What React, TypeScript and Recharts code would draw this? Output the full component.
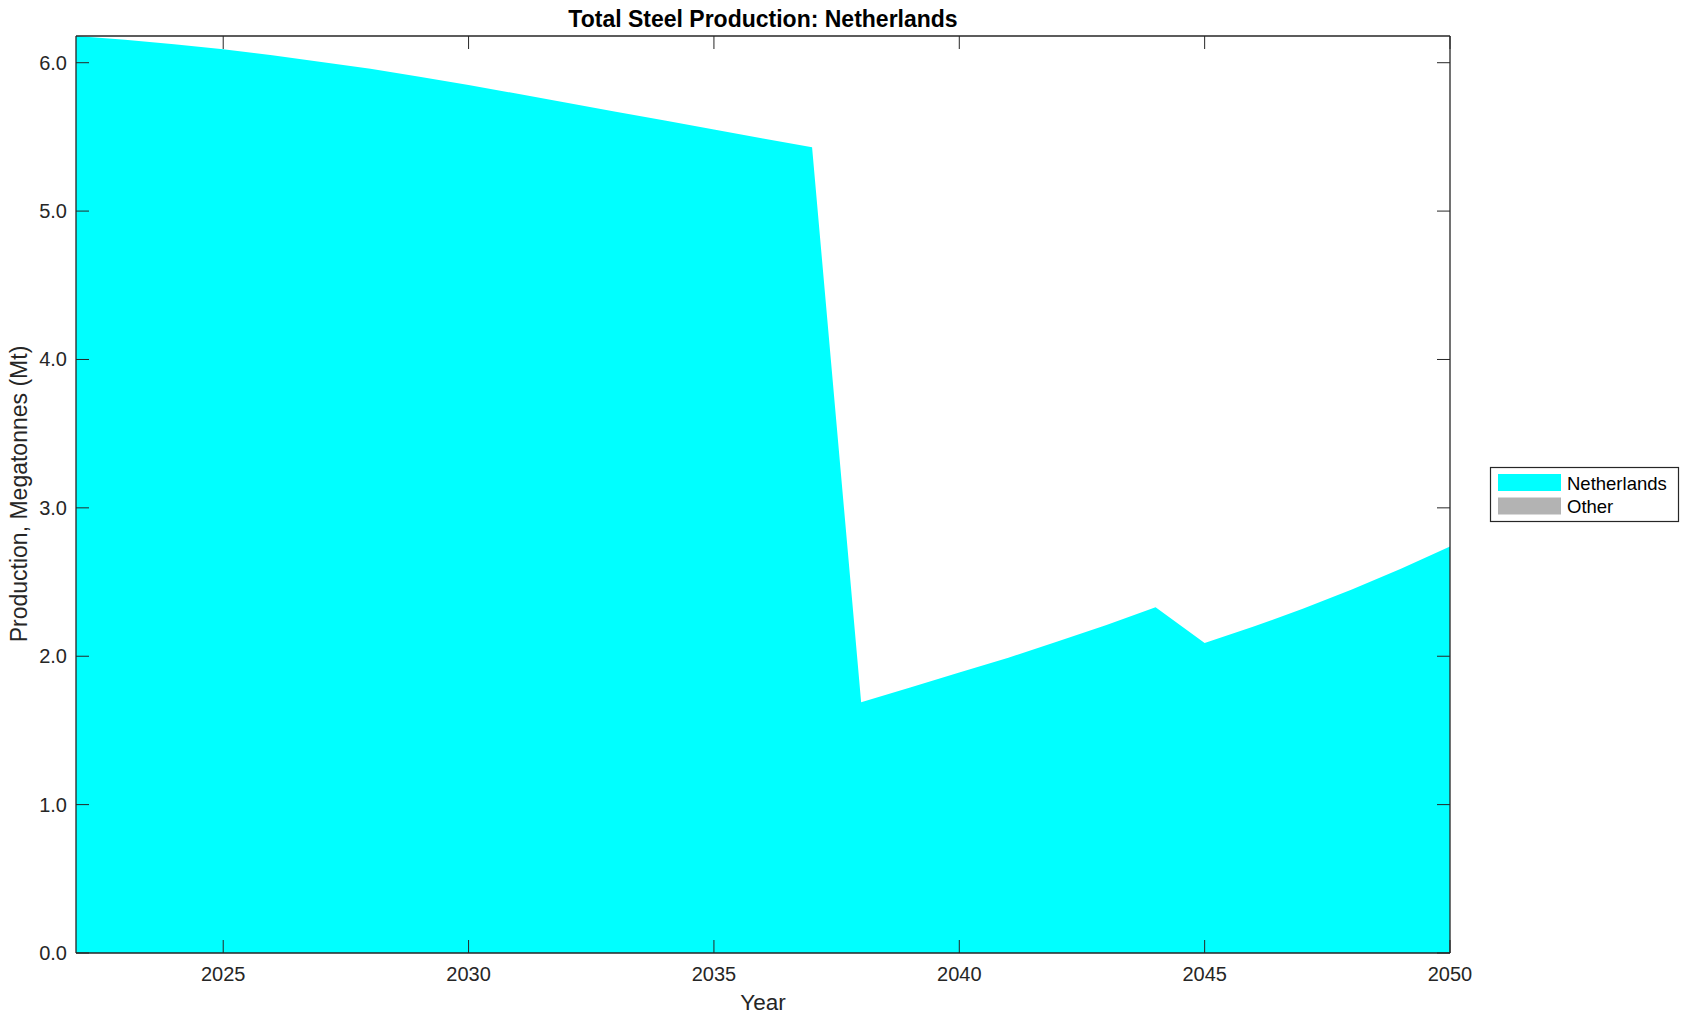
import React from "react";
import { AreaChart, Area, XAxis, YAxis } from "recharts";

const years = [2022, 2023, 2024, 2025, 2026, 2027, 2028, 2029, 2030, 2031, 2032, 2033, 2034, 2035, 2036, 2037, 2038, 2039, 2040, 2041, 2042, 2043, 2044, 2045, 2046, 2047, 2048, 2049, 2050];
const netherlands = [6.18, 6.155, 6.125, 6.09, 6.05, 6.005, 5.96, 5.905, 5.85, 5.79, 5.73, 5.67, 5.61, 5.55, 5.49, 5.43, 1.69, 1.79, 1.89, 1.99, 2.1, 2.21, 2.33, 2.09, 2.2, 2.32, 2.45, 2.59, 2.74];
const other = [0, 0, 0, 0, 0, 0, 0, 0, 0, 0, 0, 0, 0, 0, 0, 0, 0, 0, 0, 0, 0, 0, 0, 0, 0, 0, 0, 0, 0];
const xTicks = [2025, 2030, 2035, 2040, 2045, 2050];
const yTicks = [0, 1, 2, 3, 4, 5, 6];
const seriesNames = ["Netherlands", "Other"];
const seriesColors = ["#00ffff", "#b3b3b3"];

const data = years.map((y, i) => ({ year: y, Netherlands: netherlands[i], Other: other[i] }));

const FONT = "'Liberation Sans', Arial, Helvetica, sans-serif";
const AXIS = "#262626";
const TICK_LEN = 13;

const XTickBottom = (props: any) => {
  const { x, y, payload } = props;
  return (
    <g>
      <line x1={x} y1={y} x2={x} y2={y - TICK_LEN} stroke={AXIS} strokeWidth={1} />
      <text x={x} y={y + 28} textAnchor="middle" fontFamily={FONT} fontSize={20} fill={AXIS}>
        {payload.value}
      </text>
    </g>
  );
};
const XTickTop = (props: any) => {
  const { x, y } = props;
  return <line x1={x} y1={y} x2={x} y2={y + TICK_LEN} stroke={AXIS} strokeWidth={1} />;
};
const YTickLeft = (props: any) => {
  const { x, y, payload } = props;
  return (
    <g>
      <line x1={x} y1={y} x2={x + TICK_LEN} y2={y} stroke={AXIS} strokeWidth={1} />
      <text x={x - 9} y={y + 7} textAnchor="end" fontFamily={FONT} fontSize={20} fill={AXIS}>
        {Number(payload.value).toFixed(1)}
      </text>
    </g>
  );
};
const YTickRight = (props: any) => {
  const { x, y } = props;
  return <line x1={x} y1={y} x2={x - TICK_LEN} y2={y} stroke={AXIS} strokeWidth={1} />;
};

export default function App() {
  return (
    <div style={{ position: "absolute", left: 0, top: 0, width: 1689, height: 1021, background: "#fff" }}>
      <AreaChart
        width={1689}
        height={1021}
        data={data}
        margin={{ left: 75, right: 238, top: 35, bottom: 67 }}
      >
        <XAxis
          dataKey="year"
          type="number"
          domain={[2022, 2050]}
          ticks={xTicks}
          allowDataOverflow
          height={1}
          tickSize={0}
          tickMargin={0}
          tickLine={false}
          axisLine={{ stroke: AXIS, strokeWidth: 1.3 }}
          tick={<XTickBottom />}
        />
        <XAxis
          xAxisId="top"
          orientation="top"
          dataKey="year"
          type="number"
          domain={[2022, 2050]}
          ticks={xTicks}
          allowDataOverflow
          height={1}
          tickSize={0}
          tickMargin={0}
          tickLine={false}
          axisLine={{ stroke: AXIS, strokeWidth: 1.3 }}
          tick={<XTickTop />}
        />
        <YAxis
          type="number"
          domain={[0, 6.18]}
          ticks={yTicks}
          allowDataOverflow
          width={1}
          tickSize={0}
          tickMargin={0}
          tickLine={false}
          axisLine={{ stroke: AXIS, strokeWidth: 1.3 }}
          tick={<YTickLeft />}
        />
        <YAxis
          yAxisId="right"
          orientation="right"
          type="number"
          domain={[0, 6.18]}
          ticks={yTicks}
          allowDataOverflow
          width={1}
          tickSize={0}
          tickMargin={0}
          tickLine={false}
          axisLine={{ stroke: AXIS, strokeWidth: 1.3 }}
          tick={<YTickRight />}
        />
        <Area
          type="linear"
          dataKey="Netherlands"
          stackId="1"
          fill="#00ffff"
          fillOpacity={1}
          stroke="none"
          isAnimationActive={false}
        />
        <Area
          type="linear"
          dataKey="Other"
          stackId="1"
          fill="#b3b3b3"
          fillOpacity={1}
          stroke="none"
          isAnimationActive={false}
        />
      </AreaChart>
      <svg
        width={1689}
        height={1021}
        style={{ position: "absolute", left: 0, top: 0, pointerEvents: "none" }}
      >
        <text x={763} y={27} textAnchor="middle" fontFamily={FONT} fontWeight="bold" fontSize={23} fill="#000">
          Total Steel Production: Netherlands
        </text>
        <text x={763} y={1010} textAnchor="middle" fontFamily={FONT} fontSize={22.5} fill={AXIS}>
          Year
        </text>
        <text
          x={27}
          y={494}
          textAnchor="middle"
          transform="rotate(-90 27 494)"
          fontFamily={FONT}
          fontSize={23}
          fill={AXIS}
        >
          Production, Megatonnes (Mt)
        </text>
        <rect x={1490.5} y={467.5} width={188} height={54} fill="#fff" stroke={AXIS} strokeWidth={1.2} />
        {seriesNames.map((n, i) => (
          <g key={n}>
            <rect x={1498} y={474 + i * 23.5} width={63} height={17} fill={seriesColors[i]} />
            <text x={1567} y={490 + i * 23} fontFamily={FONT} fontSize={18.5} fill="#000">
              {n}
            </text>
          </g>
        ))}
      </svg>
    </div>
  );
}
